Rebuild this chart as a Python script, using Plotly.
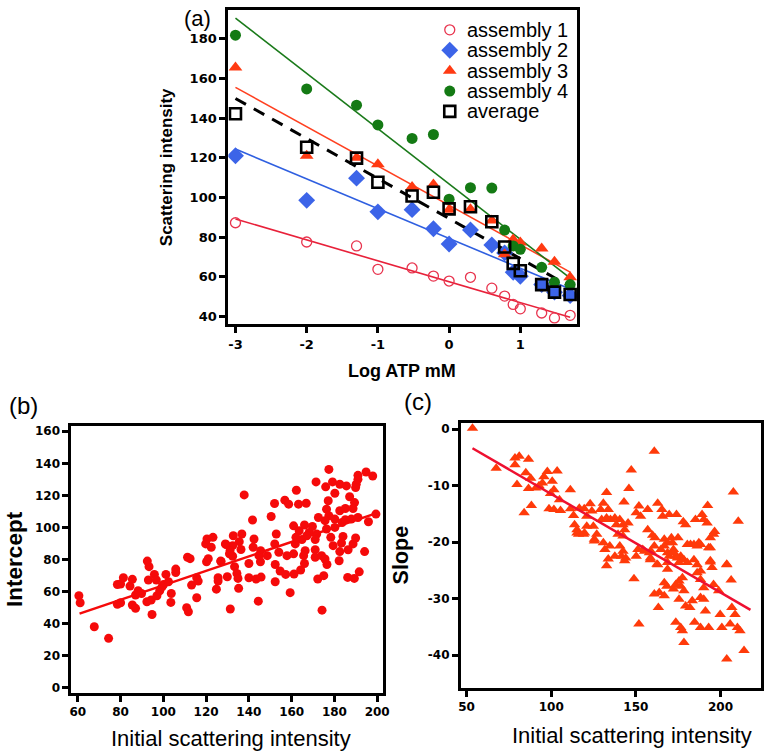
import numpy as np
import plotly.graph_objects as go

# ---------------- Panel (a) data ----------------
log_atp = [-3, -2, -1.3, -1, -0.52, -0.22, 0, 0.3, 0.6, 0.78, 0.9, 1.0, 1.3, 1.48, 1.7]
assembly1 = [87.2, 77.5, 75.5, 63.7, 64.4, 60.3, 57.8, 59.7, 54.2, 50.2, 46.0, 43.8, 41.7, 39.2, 40.5]
assembly2 = [121.0, 98.5, 109.7, 92.7, 93.8, 84.2, 76.5, 83.6, 76.0, 72.0, 62.2, 60.2, 56.0, 52.2, 50.5]
assembly3 = [165.5, 121.0, 120.0, 116.7, 105.2, 106.5, 93.8, 94.0, 88.3, 71.3, 78.8, 77.2, 74.2, 67.5, 59.7]
assembly4 = [181.8, 154.7, 146.5, 136.5, 129.7, 131.7, 99.1, 104.9, 104.7, 83.5, 75.5, 73.8, 64.7, 57.2, 56.0]
average = [142.2, 125.3, 119.8, 107.6, 100.7, 102.6, 94.2, 95.3, 87.7, 75.0, 66.7, 63.0, 56.0, 52.2, 51.0]
series_names = ["assembly 1", "assembly 2", "assembly 3", "assembly 4", "average"]
a_xticks = [-3, -2, -1, 0, 1]
a_xticktext = ["-3", "-2", "-1", "0", "1"]
a_yticks = [40, 60, 80, 100, 120, 140, 160, 180]

# ---------------- Panel (b) data ----------------
b_x = [60.5, 61.1, 67.7, 74.4, 78.5, 80.0, 81.3, 78.5, 80.0, 84.4, 85.5, 85.5, 87.0, 87.0, 88.2, 89.8,
       93.0, 93.3, 92.3, 94.3, 94.7, 95.8, 96.7, 97.0, 98.3, 99.4, 100.1, 101.2, 102.4, 103.7, 103.5,
       105.8, 105.8, 110.9, 111.7, 113.2, 115.6, 115.6, 116.3, 120.2, 124.8, 125.6, 125.6, 126.8, 129.9,
       131.3, 133.3, 134.4, 134.9, 135.2, 140.0, 140.0, 143.4, 144.4, 145.7, 145.4, 152.3, 152.3, 154.6,
       157.2, 159.3, 161.1, 164.2, 166.0, 172.2, 174.2, 175.0, 176.5, 182.2, 186.2, 189.3, 191.6,
       177.4, 194.8, 197.9, 191.0, 191.0, 190.2, 189.9, 171.4, 175.9, 179.1, 182.5, 185.6, 137.8, 162.2,
       156.8, 158.6, 163.2, 166.8, 152.0, 180.2, 187.1, 189.4, 177.1, 176.3, 177.4, 182.5, 185.1, 188.7,
       180.2, 175.6, 172.5, 150.4, 141.7, 160.9, 166.0, 169.7, 163.5, 168.2, 171.7, 176.3, 180.2, 183.6,
       185.1, 187.9, 191.0, 195.9, 199.4, 178.3, 164.8, 167.1, 171.0, 162.0, 184.0, 188.7, 189.9, 183.3,
       186.4, 194.1, 182.5, 179.4, 171.0, 166.3, 161.7, 152.8, 152.1, 136.7, 132.7, 135.5, 132.4, 142.4,
       142.0, 145.5, 120.4, 123.2, 119.8, 122.4, 129.3, 130.9, 132.4, 136.3, 144.7, 148.6, 154.0, 157.8,
       160.9, 165.6, 171.0, 174.0, 175.6, 111.3, 129.0, 131.2, 127.0, 121.0, 92.5, 112.5]
b_y = [57.4, 53.0, 38.0, 30.8, 64.4, 64.7, 68.6, 52.0, 53.0, 63.4, 67.6, 51.6, 49.5, 57.8, 60.5, 58.8,
       67.2, 75.5, 53.6, 54.7, 45.7, 70.7, 67.2, 57.4, 60.5, 63.0, 64.4, 70.7, 66.1, 58.8, 53.2,
       74.0, 71.9, 49.9, 47.4, 64.0, 68.6, 56.1, 66.5, 78.6, 61.5, 68.6, 66.5, 79.0, 69.2,
       49.1, 75.5, 71.3, 68.2, 62.0, 68.6, 77.5, 67.8, 54.0, 69.0, 78.6, 66.1, 76.9, 72.8,
       70.7, 59.3, 70.9, 73.4, 77.5, 67.8, 48.4, 69.9, 76.9, 79.2, 68.8, 68.2, 72.3,
       136.2, 134.6, 132.1, 132.5, 130.0, 126.9, 124.9, 128.4, 125.3, 128.4, 126.9, 125.9, 120.3, 123.2,
       117.0, 114.5, 114.5, 115.1, 114.9, 121.3, 119.1, 115.5, 116.6, 111.4, 107.3, 110.4, 111.8, 111.8,
       105.2, 104.2, 106.2, 106.8, 104.6, 101.0, 101.5, 100.6, 97.9, 96.9, 95.9, 99.0, 100.0, 103.1,
       104.8, 105.2, 106.2, 103.5, 108.3, 93.8, 92.4, 94.8, 92.4, 93.8, 94.4, 89.7, 93.4, 90.3,
       86.1, 84.9, 84.9, 88.6, 86.1, 85.5, 89.7, 95.9, 89.7, 95.9, 94.8, 91.1, 88.6, 92.8,
       87.6, 85.5, 92.8, 93.8, 89.7, 87.6, 89.3, 83.5, 82.0, 86.2, 82.4, 82.4, 84.5, 82.4,
       83.5, 82.4, 81.4, 82.4, 80.3, 81.4, 89.7, 85.5, 78.7, 80.5, 79.0, 80.5]
b_fit = [0.451, 18.8]          # slope, intercept of the regression line
b_fit_x = [60.8, 199.4]

# ---------------- Panel (c) data ----------------
c_x = [53.5, 67.5, 78.6, 81.1, 78.6, 86.6, 79.8, 85.0, 87.9, 86.6, 90.9, 92.8, 95.7, 97.7, 94.8, 100.6,
       101.6, 103.5, 99.6, 104.9, 84.0, 88.3, 98.7, 101.6, 105.5, 111.3, 111.3, 113.2, 116.6, 119.5, 123.0,
       121.0, 124.0, 113.8, 115.2, 116.2, 119.7, 121.0, 124.9, 125.5, 126.9, 129.2, 130.8, 132.7, 133.7,
       135.0, 129.8, 132.7, 137.6, 140.5, 138.5, 142.4, 143.4, 145.4, 139.5, 142.4, 147.3, 145.9, 143.0,
       130.8, 131.7, 134.6, 140.5, 142.4, 144.0, 137.6, 133.7, 132.7, 151.8, 150.2, 152.8, 157.0, 160.9,
       162.9, 165.4, 165.8, 169.7, 174.0, 157.0, 159.9, 161.3, 166.8, 168.7, 171.0, 174.9, 178.0, 179.4,
       185.2, 189.1, 190.1, 192.1, 192.4, 196.5, 194.0, 182.3, 186.2, 188.2, 194.0, 207.6, 210.5, 151.2,
       154.1, 158.9, 160.9, 164.8, 168.7, 172.2, 173.6, 176.5, 178.4, 186.2, 194.0, 203.7, 158.6, 162.9,
       168.7, 115.2, 119.1, 125.5, 141.5, 143.4, 148.9, 151.8, 155.1, 158.6, 162.5, 160.9, 163.8, 163.3,
       166.8, 168.3, 166.8, 168.7, 169.7, 171.6, 172.6, 174.5, 175.5, 172.2, 173.6, 175.5, 176.5, 177.5,
       178.4, 175.5, 179.4, 181.9, 183.3, 184.7, 186.2, 188.2, 188.2, 190.1, 190.1, 188.2, 191.1, 193.0,
       188.2, 177.5, 176.5, 173.6, 178.4, 194.0, 195.0, 195.9, 198.9, 199.8, 200.8, 203.7, 206.3, 206.7,
       208.6, 205.7, 210.0, 211.5, 213.9, 203.7, 180.4, 184.3, 187.2, 184.3, 166.8, 158.0, 150.2, 195.9,
       193.0, 180.4]
c_y = [0.2, -6.9, -5.1, -4.8, -6.3, -5.3, -9.8, -7.7, -8.7, -10.5, -10.4, -10.0, -8.4, -7.5, -9.5, -9.2,
       -10.7, -7.4, -11.4, -12.5, -14.8, -13.5, -14.1, -14.2, -14.4, -10.7, -14.1, -15.3, -14.0, -14.1, -13.2,
       -15.4, -14.5, -16.9, -17.8, -18.6, -18.4, -17.2, -17.2, -19.5, -18.6, -14.2, -13.1, -11.2, -14.2,
       -16.0, -16.0, -15.7, -15.7, -16.0, -16.9, -16.9, -17.8, -16.6, -18.6, -18.9, -7.2, -10.5, -12.9,
       -20.1, -21.3, -20.7, -20.7, -21.6, -22.8, -22.5, -23.0, -24.2, -13.6, -14.8, -15.4, -14.2, -3.9,
       -13.1, -14.2, -15.4, -15.1, -15.1, -17.8, -18.8, -19.2, -19.5, -20.1, -19.2, -19.2, -16.4, -16.9,
       -16.0, -15.1, -16.0, -16.6, -13.5, -18.1, -19.2, -20.4, -20.7, -20.4, -21.0, -11.1, -16.3, -21.3,
       -21.3, -21.6, -20.7, -21.3, -21.9, -21.3, -22.5, -22.5, -23.1, -24.0, -23.5, -24.0, -22.8, -24.0,
       -23.6, -18.4, -18.6, -19.8, -22.5, -23.3, -26.5, -34.5, -21.6, -23.1, -23.9, -29.2, -28.9, -31.6,
       -29.5, -27.8, -27.2, -24.8, -22.5, -20.1, -21.9, -22.8, -23.6, -28.3, -27.5, -26.9, -27.8, -26.3,
       -28.6, -30.1, -31.3, -31.6, -30.4, -34.2, -25.4, -25.1, -26.6, -28.1, -30.1, -29.8, -32.2, -35.1,
       -35.1, -35.7, -35.1, -34.2, -37.8, -23.3, -24.5, -27.5, -28.6, -32.8, -35.1, -23.9, -26.7, -31.6,
       -32.8, -34.5, -35.1, -35.7, -39.2, -40.7, -23.6, -23.1, -20.1, -20.4, -20.7, -21.9, -22.5, -18.6,
       -21.0, -20.4]
c_fit = [-0.1744, 5.97]
c_fit_x = [53.5, 217.7]
c_yticks = [0, -10, -20, -30, -40]
c_yticktext = ["0", "-10", "-20", "-30", "-40"]

W, H = 779, 754
FONT = "Arial, Liberation Sans, sans-serif"
TICKFONT = "DejaVu Sans, Verdana, sans-serif"

fig = go.Figure()

# ---- Panel (a) ----
markers = [
    dict(symbol="circle-open", size=10, color="#e8344e", line=dict(width=1.3, color="#e8344e")),
    dict(symbol="diamond", size=13, color="#3c64e8"),
    dict(symbol="triangle-up", size=12, color="#ff3a12"),
    dict(symbol="circle", size=11, color="#147a14"),
    dict(symbol="square-open", size=11, color="black", line=dict(width=2.6, color="black")),
]
lines = [
    dict(color="#e8213a", width=1.6),
    dict(color="#2f5fe0", width=1.6),
    dict(color="#ff4020", width=1.6),
    dict(color="#1a7a1a", width=1.6),
    dict(color="black", width=3, dash="12px,9px"),
]
all_series = [assembly1, assembly2, assembly3, assembly4, average]
xa = np.array(log_atp)
xf = np.array([min(log_atp), max(log_atp)])
for ys, ln in zip(all_series, lines):
    k, b = np.polyfit(xa, np.array(ys), 1)
    fig.add_trace(go.Scatter(x=xf, y=k * xf + b, mode="lines", line=ln, showlegend=False,
                             xaxis="x", yaxis="y", hoverinfo="skip"))
for name, ys, mk in zip(series_names, all_series, markers):
    fig.add_trace(go.Scatter(x=log_atp, y=ys, mode="markers", name=name, marker=mk,
                             showlegend=False, xaxis="x", yaxis="y"))

# legend drawn on a hidden overlay axis measured in pixels
leg_rows = [28, 48.5, 69, 89.5, 110]
for mk, yy in zip(markers, leg_rows):
    fig.add_trace(go.Scatter(x=[453], y=[yy], mode="markers", marker=mk, showlegend=False,
                             xaxis="x4", yaxis="y4", hoverinfo="skip"))

# ---- Panel (b) ----
fig.add_trace(go.Scatter(x=b_x, y=b_y, mode="markers", marker=dict(symbol="circle", size=9, color="#f50a0a"),
                         showlegend=False, xaxis="x2", yaxis="y2"))
bx = np.array(b_fit_x)
fig.add_trace(go.Scatter(x=bx, y=b_fit[0] * bx + b_fit[1], mode="lines", line=dict(color="#f50a0a", width=2.5),
                         showlegend=False, xaxis="x2", yaxis="y2"))

# ---- Panel (c) ----
fig.add_trace(go.Scatter(x=c_x, y=c_y, mode="markers", marker=dict(symbol="triangle-up", size=10, color="#ff3a0a"),
                         showlegend=False, xaxis="x3", yaxis="y3"))
cx = np.array(c_fit_x)
fig.add_trace(go.Scatter(x=cx, y=c_fit[0] * cx + c_fit[1], mode="lines", line=dict(color="#ee1030", width=2.5),
                         showlegend=False, xaxis="x3", yaxis="y3"))


def ax(domain, rng, anchor, tickvals=None, ticktext=None, dtick=None, tick0=None, size=12, lw=2.5):
    d = dict(domain=domain, range=rng, anchor=anchor, showline=True, linecolor="black", linewidth=lw,
             mirror=True, ticks="outside", ticklen=6, tickwidth=2.5, tickcolor="black",
             showgrid=False, zeroline=False,
             tickfont=dict(family=TICKFONT, size=size, color="black", weight="bold"))
    if tickvals is not None:
        d["tickvals"] = tickvals
    if ticktext is not None:
        d["ticktext"] = ticktext
    if dtick is not None:
        d["dtick"] = dtick
        d["tick0"] = tick0
    return d


fig.update_layout(
    width=W, height=H, margin=dict(l=0, r=0, t=0, b=0),
    plot_bgcolor="white", paper_bgcolor="white",
    font=dict(family=FONT, color="black"),
    xaxis=ax([229 / W, 582 / W], [-3.1, 1.8], "y", tickvals=a_xticks, ticktext=a_xticktext, size=13, lw=3),
    yaxis=ax([1 - 324 / H, 1 - 8 / H], [36, 194.5], "x", tickvals=a_yticks, size=13, lw=3),
    xaxis2=ax([70 / W, 385 / W], [56.9, 202.5], "y2", dtick=20, tick0=60),
    yaxis2=ax([1 - 695 / H, 1 - 426.7 / H], [-3.5, 163], "x2", dtick=20, tick0=0),
    xaxis3=ax([464 / W, 768 / W], [46.5, 224], "y3", dtick=50, tick0=50),
    yaxis3=ax([1 - 690 / H, 1 - 423.3 / H], [-45.9, 1.1], "x3", tickvals=c_yticks, ticktext=c_yticktext),
    xaxis4=dict(domain=[430 / W, 580 / W], range=[430, 580], anchor="y4", visible=False, fixedrange=True),
    yaxis4=dict(domain=[1 - 125 / H, 1 - 12 / H], range=[125, 12], anchor="x4", visible=False, fixedrange=True),
    showlegend=False,
)


def label(text, x, y, size, bold=False, angle=0, xanchor="center"):
    fig.add_annotation(text=f"<b>{text}</b>" if bold else text, x=x / W, y=1 - y / H, xref="paper", yref="paper",
                       showarrow=False, textangle=angle, xanchor=xanchor, yanchor="middle",
                       font=dict(family=FONT, size=size, color="black"))


for name, yy in zip(series_names, leg_rows):
    label(name, 468, yy, 20, xanchor="left")

label("(a)", 198, 17, 22)
label("(b)", 22, 406, 24)
label("(c)", 421, 402, 24)
label("Scattering intensity", 166, 166, 17, bold=True, angle=-90)
label("Log ATP mM", 405, 371, 18, bold=True)
label("Intercept", 12, 560, 22.5, bold=True, angle=-90)
label("Initial scattering intensity", 232, 740, 22)
label("Slope", 404, 556, 21.5, bold=True, angle=-90)
label("Initial scattering intensity", 637, 737, 22)

fig.write_html("out.html", config={"displayModeBar": False},
               post_script="document.body.style.margin='0';document.body.style.padding='0';"
                           "document.documentElement.style.overflow='hidden';")
